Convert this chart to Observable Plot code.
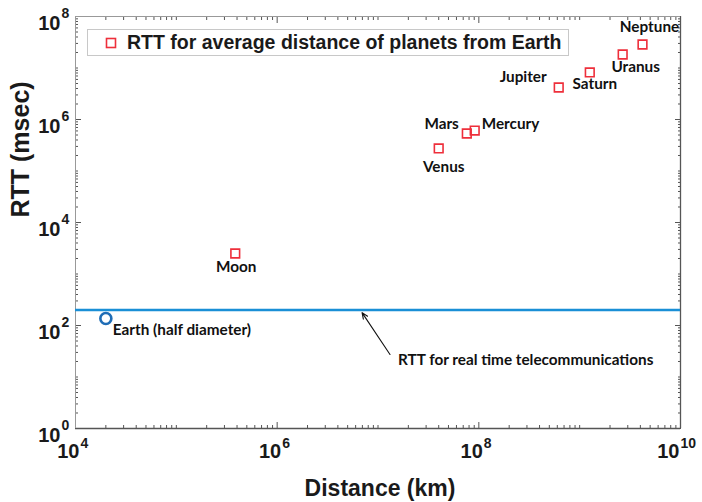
<!DOCTYPE html>
<html>
<head>
<meta charset="utf-8">
<script src="https://cdn.jsdelivr.net/npm/d3@7"></script>
<script src="https://cdn.jsdelivr.net/npm/@observablehq/plot@0.6"></script>
<style>
  html, body { margin: 0; padding: 0; background: #fff; }
  #wrap { position: relative; width: 702px; height: 502px; overflow: hidden; }
  #legend {
    position: absolute; left: 87px; top: 29px; width: 482px; height: 27px;
    border: 1px solid #c8c8c8; background: #fff; box-sizing: border-box;
    font: bold 19.5px "Liberation Sans", Arial, sans-serif; color: #1a1a1a;
    display: flex; align-items: center; white-space: nowrap;
  }
  #legend svg { margin-left: 17px; margin-right: 10px; }
</style>
</head>
<body>
<div id="wrap"><div id="legend"></div></div>
<script>
// ---- data ----
const planets   = ["Moon", "Mercury", "Venus", "Mars", "Jupiter", "Saturn", "Uranus", "Neptune"];
const distances = [3.84e5, 9.1e7, 4.0e7, 7.6e7, 6.2e8, 1.26e9, 2.67e9, 4.2e9];   // km
const rtts      = [2500, 6.1e5, 2.74e5, 5.35e5, 4.18e6, 8.2e6, 1.83e7, 2.86e7];  // msec

const earthLabel = ["Earth (half diameter)"];
const earthDistance = [2.0e4];
const earthRtt = [137];

const realTimeRtt = [200];
const realTimeText = ["RTT for real time telecommunications"];
const arrowFrom = [1.315e7, 27.4];
const arrowTo = [6.95e6, 178];

const legendText = "RTT for average distance of planets from Earth";

const xDomain = [1e4, 1e10];
const yDomain = [1e0, 1e8];
const xTickExponents = [4, 6, 8, 10];
const yTickExponents = [0, 2, 4, 6, 8];

// ---- derived ----
const pts = planets.map((name, i) => ({name, d: distances[i], r: rtts[i]}));
const earth = earthLabel.map((name, i) => ({name, d: earthDistance[i], r: earthRtt[i]}));
const xMajor = xTickExponents.map(e => 10 ** e);
const yMajor = yTickExponents.map(e => 10 ** e);
function minorTicks(lo, hi, majors) {
  const out = [];
  for (let e = Math.log10(lo); e < Math.log10(hi); e++)
    for (let k = 1; k < 10; k++) {
      const v = k * 10 ** e;
      if (!majors.includes(v)) out.push(v);
    }
  return out;
}
const xMinor = minorTicks(xDomain[0], xDomain[1], xMajor);
const yMinor = minorTicks(yDomain[0], yDomain[1], yMajor);

const labelStyle = {
  "Moon":    {dx: 1,  dy: 14,  anchor: "middle"},
  "Venus":   {dx: 5,  dy: 19,  anchor: "middle"},
  "Mars":    {dx: -8, dy: -9,  anchor: "end"},
  "Mercury": {dx: 7,  dy: -6,  anchor: "start"},
  "Jupiter": {dx: -12,dy: -10, anchor: "end"},
  "Saturn":  {dx: 5,  dy: 12,  anchor: "middle"},
  "Uranus":  {dx: 13, dy: 13,  anchor: "middle"},
  "Neptune": {dx: 7,  dy: -17, anchor: "middle"}
};
const lblFont = "Lato, 'Open Sans', sans-serif";
const lblSize = 15.3;
const axFont = "'Liberation Sans', Arial, sans-serif";
const red = "#ee2f3b";

const planetLabelMarks = pts.map(p => {
  const s = labelStyle[p.name];
  return Plot.text([p], {x: "d", y: "r", text: "name", dx: s.dx, dy: s.dy, textAnchor: s.anchor,
    fontFamily: lblFont, fontWeight: "bold", fontSize: lblSize, fill: "#111"});
});

const tickStroke = "#555";
const axisCommon = {tickFormat: () => "", label: null, stroke: tickStroke, strokeWidth: 1};

const chart = Plot.plot({
  width: 702,
  height: 502,
  marginLeft: 75,
  marginRight: 22,
  marginTop: 16,
  marginBottom: 74,
  style: {background: "white", overflow: "visible"},
  x: {type: "log", domain: xDomain},
  y: {type: "log", domain: yDomain},
  marks: [
    // inward ticks
    Plot.axisX({...axisCommon, anchor: "bottom", ticks: xMajor, tickSize: -6}),
    Plot.axisX({...axisCommon, anchor: "bottom", ticks: xMinor, tickSize: -3}),
    Plot.axisX({...axisCommon, anchor: "top", ticks: xMajor, tickSize: -6}),
    Plot.axisX({...axisCommon, anchor: "top", ticks: xMinor, tickSize: -3}),
    Plot.axisY({...axisCommon, anchor: "left", ticks: yMajor, tickSize: -6}),
    Plot.axisY({...axisCommon, anchor: "left", ticks: yMinor, tickSize: -3}),
    Plot.axisY({...axisCommon, anchor: "right", ticks: yMajor, tickSize: -6}),
    Plot.axisY({...axisCommon, anchor: "right", ticks: yMinor, tickSize: -3}),
    // frame
    Plot.ruleY([yDomain[0]], {stroke: "#555", strokeWidth: 1.3}),
    Plot.ruleX([xDomain[1]], {stroke: "#555", strokeWidth: 1.3}),
    Plot.ruleY([yDomain[1]], {stroke: "#999", strokeWidth: 1}),
    Plot.ruleX([xDomain[0]], {stroke: "#999", strokeWidth: 1}),
    // x tick labels
    Plot.text(xMajor.filter(v => v < 1e10), {x: d => d, frameAnchor: "bottom", text: () => "10", textAnchor: "end",
      dx: 4, dy: 29, fontFamily: axFont, fontWeight: "bold", fontSize: 20, fill: "#1a1a1a"}),
    Plot.text(xMajor.filter(v => v < 1e10), {x: d => d, frameAnchor: "bottom", text: d => String(Math.round(Math.log10(d))), textAnchor: "start",
      dx: 5, dy: 19, fontFamily: axFont, fontWeight: "bold", fontSize: 14, fill: "#1a1a1a"}),
    Plot.text(xMajor.filter(v => v >= 1e10), {x: d => d, frameAnchor: "bottom", text: () => "10", textAnchor: "end",
      dx: -1, dy: 29, fontFamily: axFont, fontWeight: "bold", fontSize: 20, fill: "#1a1a1a"}),
    Plot.text(xMajor.filter(v => v >= 1e10), {x: d => d, frameAnchor: "bottom", text: d => String(Math.round(Math.log10(d))), textAnchor: "start",
      dx: 0, dy: 19, fontFamily: axFont, fontWeight: "bold", fontSize: 14, fill: "#1a1a1a"}),
    // y tick labels
    Plot.text(yMajor, {y: d => d, frameAnchor: "left", text: () => "10", textAnchor: "end",
      dx: -15, dy: 7, fontFamily: axFont, fontWeight: "bold", fontSize: 20, fill: "#1a1a1a"}),
    Plot.text(yMajor, {y: d => d, frameAnchor: "left", text: d => String(Math.round(Math.log10(d))), textAnchor: "start",
      dx: -14, dy: -3, fontFamily: axFont, fontWeight: "bold", fontSize: 14, fill: "#1a1a1a"}),
    // axis titles
    Plot.text(["Distance (km)"], {frameAnchor: "bottom", text: d => d, dy: 67, dx: 2,
      fontFamily: axFont, fontWeight: "bold", fontSize: 23, fill: "#1a1a1a"}),
    Plot.text(["RTT (msec)"], {frameAnchor: "left", text: d => d, rotate: -90, dx: -55, dy: -5,
      fontFamily: axFont, fontWeight: "bold", fontSize: 25, fill: "#1a1a1a"}),
    // real-time line
    Plot.ruleY(realTimeRtt, {stroke: "#1a8fd6", strokeWidth: 2.6}),
    // arrow + annotation
    Plot.arrow([{x1: arrowFrom[0], y1: arrowFrom[1], x2: arrowTo[0], y2: arrowTo[1]}],
      {x1: "x1", y1: "y1", x2: "x2", y2: "y2", stroke: "#111", strokeWidth: 1.1, headLength: 9, headAngle: 45}),
    Plot.text(realTimeText, {x: arrowFrom[0], y: arrowFrom[1], text: d => d, textAnchor: "start", dx: 8, dy: 6,
      fontFamily: lblFont, fontWeight: "bold", fontSize: lblSize, fill: "#111"}),
    // Earth
    Plot.dot(earth, {x: "d", y: "r", r: 5.5, stroke: "#1f6db6", strokeWidth: 2.6, fill: "none"}),
    Plot.text(earth, {x: "d", y: "r", text: "name", textAnchor: "start", dx: 7, dy: 12,
      fontFamily: lblFont, fontWeight: "bold", fontSize: lblSize, fill: "#111"}),
    // planets
    Plot.dot(pts, {x: "d", y: "r", symbol: "square", r: 4.9, stroke: red, strokeWidth: 1.6, fill: "none"}),
    ...planetLabelMarks
  ]
});

const wrap = document.getElementById("wrap");
wrap.insertBefore(chart, wrap.firstChild);
const leg = document.getElementById("legend");
leg.innerHTML = `<svg width="12" height="12"><rect x="1.5" y="1.5" width="9" height="9" fill="none" stroke="${red}" stroke-width="1.6"/></svg><span>${legendText}</span>`;
</script>
</body>
</html>
